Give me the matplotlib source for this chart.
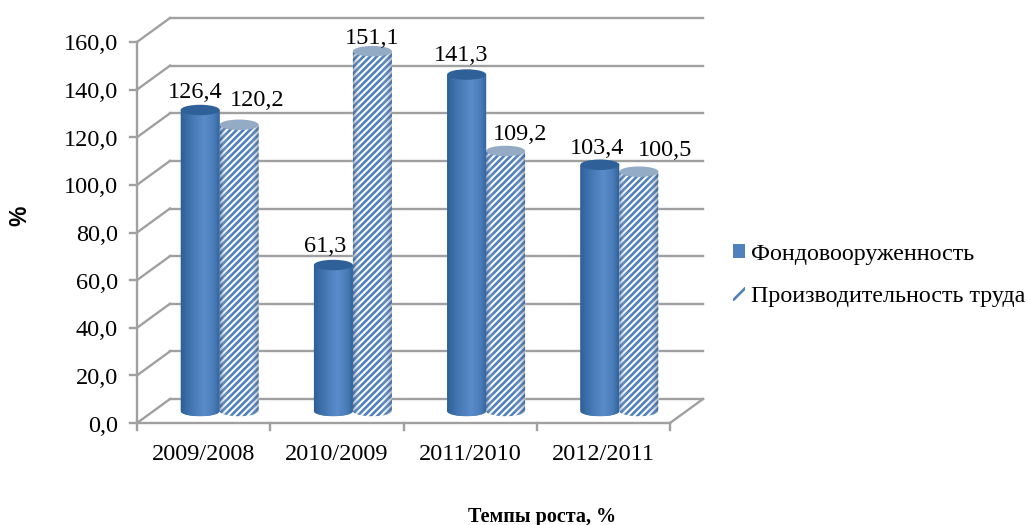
import numpy as np
import matplotlib
matplotlib.use('Agg')
import matplotlib.pyplot as plt
from matplotlib.colors import LinearSegmentedColormap
from matplotlib.patches import Ellipse, PathPatch, Patch
from matplotlib.path import Path
from matplotlib.transforms import Affine2D

categories = ['2009/2008', '2010/2009', '2011/2010', '2012/2011']
fond = [126.4, 61.3, 141.3, 103.4]
proizv = [120.2, 151.1, 109.2, 100.5]
fond_labels = ['126,4', '61,3', '141,3', '103,4']
proizv_labels = ['120,2', '151,1', '109,2', '100,5']
y_ticks = [0, 20, 40, 60, 80, 100, 120, 140, 160]
y_tick_labels = ['0,0', '20,0', '40,0', '60,0', '80,0', '100,0', '120,0', '140,0', '160,0']

# hand placed label shifts, pixels from the top of each cylinder
fond_shift = [(-5, 18), (-8, 19), (-6, 19), (-3, 16)]
proizv_shift = [(18, 24), (0, 13), (14, 16), (26, 21)]

W, H = 1027, 525
GRID = '#a0a0a0'
BLUE = '#4f81bd'
SERIF = 'Liberation Serif'
FS = 17.5

plt.rcParams['font.family'] = [SERIF, 'DejaVu Sans']
plt.rcParams['hatch.linewidth'] = 1.9

fig = plt.figure(figsize=(W / 100, H / 100), dpi=100)
ax = fig.add_axes([137 / W, (H - 423) / H, 533 / W, 381 / H])
ax.set_xlim(0, 4)
ax.set_ylim(0, 160)
for s in ax.spines.values():
    s.set_visible(False)

# depth of the 3d box, in pixels
back = ax.transData + Affine2D().translate(33, 24)
mid = ax.transData + Affine2D().translate(16, 12)
line = dict(color=GRID, lw=1.7, clip_on=False, solid_capstyle='projecting')

# wall and floor
for v in y_ticks:
    ax.plot([0, 4], [v, v], transform=back, zorder=1, **line)
    y0 = ax.transData.transform((0, v))
    y1 = back.transform((0, v))
    ax.plot([y0[0], y1[0]], [y0[1], y1[1]], transform=None, zorder=1, **line)
    ax.plot([y0[0] - 7, y0[0]], [y0[1], y0[1]], transform=None, zorder=1, **line)
p0 = ax.transData.transform((4, 0))
p1 = back.transform((4, 0))
ax.plot([p0[0], p1[0]], [p0[1], p1[1]], transform=None, zorder=1, **line)
ax.plot([0, 4], [0, 0], zorder=1, **line)
ax.plot([0, 0], [0, 160], zorder=1, **line)
for i in range(5):
    p = ax.transData.transform((i, 0))
    ax.plot([p[0], p[0]], [p[1], p[1] - 7], transform=None, zorder=1, **line)

ax.set_xticks([])
ax.set_yticks([])
for v, t in zip(y_ticks, y_tick_labels):
    ax.annotate(t, (0, v), xytext=(-19, -3), textcoords='offset pixels', ha='right',
                va='center', fontsize=FS, color='black')
for i, c in enumerate(categories):
    ax.annotate(c, (i + 0.5, 0), xytext=(0, -31), textcoords='offset pixels', ha='center',
                va='center', fontsize=FS, color='black')

BW = 39 / 133.25
EH = 2.2

blue_cm = LinearSegmentedColormap.from_list(
    'b', [(0, '#2f5f97'), (0.2, '#3f72ad'), (0.6, '#5a8ccb'), (0.85, '#4a7cb9'), (1, '#33649d')])
shade_cm = LinearSegmentedColormap.from_list(
    's', [(0, (0.2, 0.3, 0.45, 0.45)), (0.2, (1, 1, 1, 0)), (0.7, (1, 1, 1, 0)), (1, (0.2, 0.3, 0.45, 0.4))])
grad = np.linspace(0, 1, 64).reshape(1, -1)


def cylinder_path(xc, v):
    t = np.linspace(np.pi, 2 * np.pi, 40)
    bx = xc + BW / 2 * np.cos(t)
    by = EH * np.sin(t)
    verts = [(xc - BW / 2, v)] + list(zip(bx, by)) + [(xc + BW / 2, v), (xc - BW / 2, v)]
    codes = [Path.MOVETO] + [Path.LINETO] * (len(verts) - 2) + [Path.CLOSEPOLY]
    return Path(verts, codes)


def draw_solid(xc, v, z):
    patch = PathPatch(cylinder_path(xc, v), fc=BLUE, lw=0, transform=mid, zorder=z, clip_on=False)
    ax.add_patch(patch)
    im = ax.imshow(grad, cmap=blue_cm, extent=[xc - BW / 2, xc + BW / 2, -EH, v], aspect='auto',
                   transform=mid, zorder=z + 0.1)
    im.set_clip_path(patch)
    ax.add_patch(Ellipse((xc, v), BW, 2 * EH, fc='#2f6198', lw=0, transform=mid, zorder=z + 0.2,
                         clip_on=False))


def draw_hatched(xc, v, z):
    patch = PathPatch(cylinder_path(xc, v), fc='white', ec=BLUE, hatch='/' * 5, lw=0, transform=mid,
                      zorder=z, clip_on=False)
    ax.add_patch(patch)
    im = ax.imshow(grad, cmap=shade_cm, extent=[xc - BW / 2, xc + BW / 2, -EH, v], aspect='auto',
                   transform=mid, zorder=z + 0.1)
    im.set_clip_path(patch)
    ax.add_patch(Ellipse((xc, v), BW, 2 * EH, fc='#94abc6', lw=0, transform=mid, zorder=z + 0.2,
                         clip_on=False))


for i in range(4):
    xb = i + 0.5 - BW / 2
    xh = i + 0.5 + BW / 2
    draw_hatched(xh, proizv[i], 3 + i)
    draw_solid(xb, fond[i], 3.5 + i)
    ax.annotate(fond_labels[i], (xb, fond[i]), xycoords=mid,
                xytext=fond_shift[i], textcoords='offset pixels', ha='center', va='center',
                fontsize=FS, zorder=20)
    ax.annotate(proizv_labels[i], (xh, proizv[i]), xycoords=mid,
                xytext=proizv_shift[i], textcoords='offset pixels', ha='center', va='center',
                fontsize=FS, zorder=20)

ax.set_xlim(0, 4)
ax.set_ylim(0, 160)

handles = [Patch(fc=BLUE, lw=0), Patch(fc='white', ec=BLUE, hatch='//', lw=0)]
fig.legend(handles, ['Фондовооруженность', 'Производительность труда'],
           loc='upper left', bbox_to_anchor=(728 / W, 1 - 239 / H), frameon=False, fontsize=FS - 0.2,
           handlelength=0.5, handleheight=0.5, handletextpad=0.25, labelspacing=0.9, borderpad=0.2,
           borderaxespad=0)

fig.text(20 / W, 1 - 216 / H, '%', rotation=90, ha='center', va='center', fontsize=16.5,
         fontweight='bold', family='Liberation Sans')
fig.text(542 / W, 1 - 517 / H, 'Темпы роста, %', ha='center', va='center', fontsize=14.5,
         fontweight='bold')

fig.savefig('out.png', dpi=100)
